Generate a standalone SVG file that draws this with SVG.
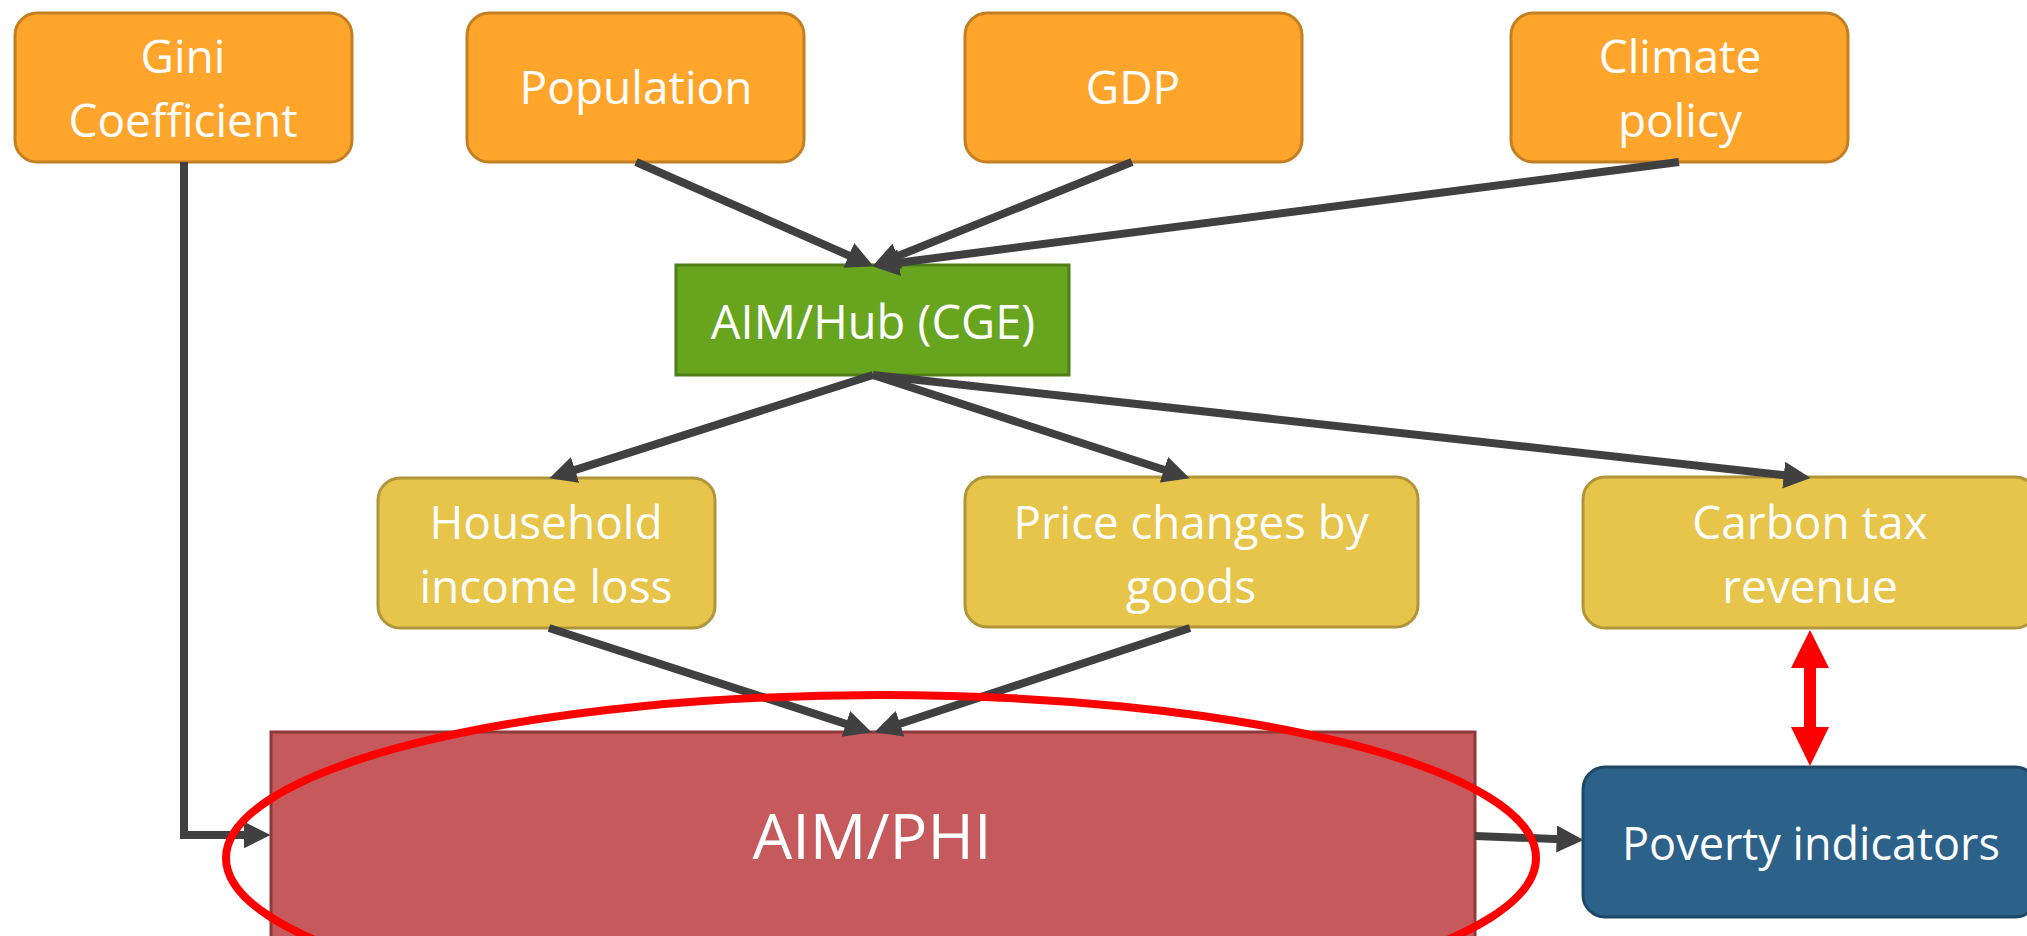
<svg xmlns="http://www.w3.org/2000/svg" width="2027" height="936" viewBox="0 0 2027 936">
<style>
  .t { font-family: "Open Sans", "Liberation Sans", sans-serif; fill: #ffffff; text-anchor: middle; font-size: 46px; }
  .orange { fill: #FFA52C; stroke: #C47F22; stroke-width: 3; }
  .yellow { fill: #E6C54A; stroke: #B0953A; stroke-width: 3; }
  .conn { fill: none; stroke: #404040; stroke-width: 8; marker-end: url(#ah); }
</style>
<defs>
  <marker id="ah" markerUnits="userSpaceOnUse" markerWidth="27" markerHeight="27" viewBox="0 0 26 26" refX="10" refY="13" orient="auto">
    <path d="M0,0 L26,13 L0,26 z" fill="#404040"/>
  </marker>
</defs>
<rect width="2027" height="936" fill="#ffffff"/>

<g id="gini">
  <rect class="orange" x="15" y="13" width="337" height="149" rx="22"/>
  <text class="t" x="183" y="73">Gini</text>
  <text class="t" x="183" y="137">Coefficient</text>
</g>
<g id="population">
  <rect class="orange" x="467" y="13" width="337" height="149" rx="22"/>
  <text class="t" x="636" y="104">Population</text>
</g>
<g id="gdp">
  <rect class="orange" x="965" y="13" width="337" height="149" rx="22"/>
  <text class="t" x="1133" y="104">GDP</text>
</g>
<g id="climate">
  <rect class="orange" x="1511" y="13" width="337" height="149" rx="22"/>
  <text class="t" x="1680" y="73">Climate</text>
  <text class="t" x="1680" y="137">policy</text>
</g>
<g id="hub">
  <rect x="676" y="265" width="393" height="110" fill="#68A51E" stroke="#4E7E16" stroke-width="3"/>
  <text class="t" x="873" y="339" style="font-size:47px">AIM/Hub (CGE)</text>
</g>
<g id="household">
  <rect class="yellow" x="378" y="478" width="337" height="150" rx="22"/>
  <text class="t" x="546" y="539">Household</text>
  <text class="t" x="546" y="603">income loss</text>
</g>
<g id="price">
  <rect class="yellow" x="965" y="477" width="453" height="150" rx="22"/>
  <text class="t" x="1191" y="539" textLength="355" lengthAdjust="spacingAndGlyphs">Price changes by</text>
  <text class="t" x="1191" y="603">goods</text>
</g>
<g id="carbon">
  <rect class="yellow" x="1583" y="477" width="454" height="151" rx="22"/>
  <text class="t" x="1810" y="539">Carbon tax</text>
  <text class="t" x="1810" y="603">revenue</text>
</g>
<g id="poverty">
  <rect x="1583" y="767" width="454" height="150" rx="22" fill="#2C628A" stroke="#1F4766" stroke-width="3"/>
  <text class="t" x="1811" y="860" style="font-size:45px">Poverty indicators</text>
</g>
<g id="phi">
  <rect x="271" y="732" width="1204" height="220" fill="#C6595B" stroke="#8E3A3C" stroke-width="3"/>
  <text class="t" x="872" y="859" style="font-size:63px">AIM/PHI</text>
</g>

<g id="connectors">
  <path class="conn" d="M636,162 L858.3,259.6"/>
  <path class="conn" d="M1132,162 L887.9,260"/>
  <path class="conn" d="M1679,162 L888.9,264"/>
  <path class="conn" d="M873,375 L565.2,473.1"/>
  <path class="conn" d="M873,375 L1173.8,473"/>
  <path class="conn" d="M873,375 L1794.1,476.3"/>
  <path class="conn" d="M549,628 L855.8,727.1"/>
  <path class="conn" d="M1190,628 L890.2,727"/>
  <path class="conn" d="M184,162 V835 H254"/>
  <path class="conn" d="M1475,836 L1567,839.4"/>
  <polygon points="1810,630 1829,668 1816,668 1816,727 1829,727 1810,766 1791,727 1804,727 1804,668 1791,668" fill="#FF0000"/>
</g>

<g id="highlight">
  <ellipse cx="881" cy="858" rx="655" ry="163" fill="none" stroke="#FF0000" stroke-width="8"/>
</g>
</svg>
